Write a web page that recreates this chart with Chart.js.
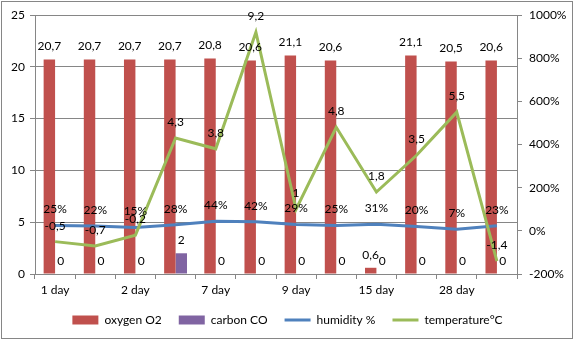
<!DOCTYPE html>
<html><head><meta charset="utf-8">
<script src="https://cdn.jsdelivr.net/npm/chart.js@4.4.1/dist/chart.umd.min.js"></script>
<style>html,body{margin:0;padding:0;background:#fff}#wrap{width:575px;height:340px;position:relative}</style>
</head><body><div id="wrap"><canvas id="c" width="575" height="340"></canvas></div>
<script>
const categories = ['1 day','','2 day','','7 day','','9 day','','15 day','','28 day',''];
const oxygenO2 = [20.7,20.7,20.7,20.7,20.8,20.6,21.1,20.6,0.6,21.1,20.5,20.6];
const carbonCO = [0,0,0,2,0,0,0,0,0,0,0,0];
const humidity = [0.25,0.22,0.15,0.28,0.44,0.42,0.29,0.25,0.31,0.20,0.07,0.23];
const temperature = [-0.5,-0.7,-0.2,4.3,3.8,9.2,1,4.8,1.8,3.5,5.5,-1.4];
const seriesNames = ['oxygen O2','carbon CO','humidity %','temperature°C'];

const RED='#C0504D', PURPLE='#8064A2', BLUE='#4F81BD', GREEN='#9BBB59', GRID='#868686';
const FONT = {family:'Lato', size:12};

const fmtNum = v => String(v).replace('.', ',');
const fmtPct = v => Math.round(v*100) + '%';

const borderPlugin = {
  id:'outerBorder',
  beforeDraw(chart){
    const c=chart.ctx; c.save(); c.fillStyle='#fff'; c.fillRect(0,0,chart.width,chart.height); c.restore();
  },
  afterDraw(chart){
    const c=chart.ctx; c.save(); c.strokeStyle=GRID; c.lineWidth=1;
    c.strokeRect(1.5,1.5,571,337); c.restore();
  }
};

const labelPlugin = {
  id:'valueLabels',
  afterDatasetsDraw(chart){
    const c=chart.ctx; c.save();
    c.font='12px Lato'; c.fillStyle='#000'; c.textAlign='center'; c.textBaseline='middle';
    chart.data.datasets.forEach((ds,di)=>{
      const meta=chart.getDatasetMeta(di);
      meta.data.forEach((el,i)=>{
        const v=ds.data[i];
        const txt = di===2 ? fmtPct(v) : fmtNum(v);
        const off = (di<2) ? 13 : 16;
        c.fillText(txt, el.x, el.y-off);
      });
    });
    c.restore();
  }
};

new Chart(document.getElementById('c'), {
  data:{
    labels: categories,
    datasets:[
      {type:'bar', label:seriesNames[0], data:oxygenO2, backgroundColor:RED, yAxisID:'y', order:2, categoryPercentage:0.57, barPercentage:1},
      {type:'bar', label:seriesNames[1], data:carbonCO, backgroundColor:PURPLE, yAxisID:'y', order:2, categoryPercentage:0.57, barPercentage:1},
      {type:'line', label:seriesNames[2], data:humidity, borderColor:BLUE, backgroundColor:BLUE, borderWidth:3, pointRadius:0, tension:0, yAxisID:'y2', order:1},
      {type:'line', label:seriesNames[3], data:temperature, borderColor:GREEN, backgroundColor:GREEN, borderWidth:3, pointRadius:0, tension:0, yAxisID:'y2', order:0}
    ]
  },
  options:{
    responsive:false, animation:false, devicePixelRatio:1,
    layout:{padding:{top:15,left:0,right:0,bottom:4}},
    plugins:{
      tooltip:{enabled:false},
      legend:{
        position:'bottom',
        labels:{
          font:FONT, color:'#000', usePointStyle:true, pointStyleWidth:26, boxHeight:9, padding:17,
          generateLabels(chart){
            return chart.data.datasets.map((ds,i)=>({
              text: ds.label,
              fillStyle: ds.type==='bar'? ds.backgroundColor : ds.borderColor,
              strokeStyle: ds.type==='bar'? ds.backgroundColor : ds.borderColor,
              lineWidth: ds.type==='bar'? 0 : 3,
              pointStyle: ds.type==='bar'? 'rect' : 'line',
              fontColor:'#000',
              hidden:false, datasetIndex:i
            }));
          }
        }
      }
    },
    scales:{
      x:{
        offset:true,
        grid:{offset:true, drawOnChartArea:false, drawTicks:true, tickLength:5, color:GRID},
        border:{color:GRID},
        ticks:{font:FONT, color:'#000', autoSkip:false, maxRotation:0, padding:4},
        afterFit(s){ s.height=23; }
      },
      y:{
        position:'left', min:0, max:25,
        ticks:{stepSize:5, font:FONT, color:'#000', padding:5},
        grid:{color:GRID, tickLength:5},
        border:{color:GRID},
        afterFit(s){ s.width=35; }
      },
      y2:{
        position:'right', min:-2, max:10,
        ticks:{stepSize:2, font:FONT, color:'#000', padding:7, callback:v=>fmtPct(v)},
        grid:{drawOnChartArea:false, color:GRID, tickLength:5},
        border:{color:GRID},
        afterFit(s){ s.width=58; }
      }
    }
  },
  plugins:[borderPlugin, labelPlugin]
});
</script></body></html>
